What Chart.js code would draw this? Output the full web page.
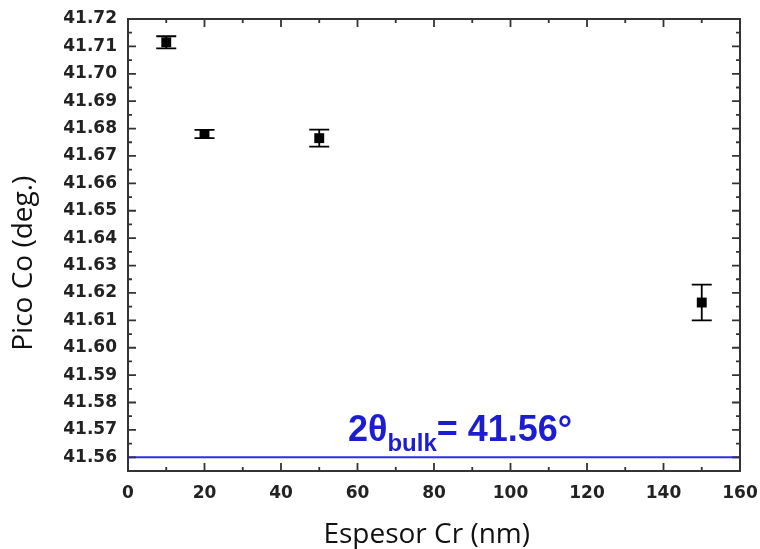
<!DOCTYPE html>
<html>
<head>
<meta charset="utf-8">
<script src="https://cdn.jsdelivr.net/npm/chart.js@4.4.0/dist/chart.umd.min.js"></script>
<style>
  html, body { margin: 0; padding: 0; background: #fff; }
  #wrap { width: 760px; height: 549px; }
</style>
</head>
<body>
<div id="wrap"><canvas id="peakChart" width="760" height="549"></canvas></div>
<script>
// Data
const thickness = [10, 20, 50, 150];                 // Espesor Cr (nm)
const peakPos = [41.7115, 41.678, 41.6765, 41.6165];  // Pico Co (deg.)
const peakErr = [0.0022, 0.0015, 0.0031, 0.0065];
const bulkValue = 41.56;
const bulkRange = [0, 160];
const xTicks = [0, 20, 40, 60, 80, 100, 120, 140, 160];
const yTicks = [41.56, 41.57, 41.58, 41.59, 41.60, 41.61, 41.62, 41.63, 41.64,
                41.65, 41.66, 41.67, 41.68, 41.69, 41.70, 41.71, 41.72];

const tickFont = { family: '"DejaVu Sans", Verdana, sans-serif', size: 17, weight: 'bold' };
const titleFont = { family: '"Open Sans", "Noto Sans", sans-serif', size: 28, weight: 'normal' };
const blueLine = '#2e2ee6';
const blueText = '#1c1cd0';

// error bars, drawn through the scales
const errorBars = {
    id: 'errorBars',
    afterDatasetsDraw(chart) {
        const { ctx, scales: { x, y } } = chart;
        ctx.save();
        ctx.strokeStyle = '#000';
        ctx.lineWidth = 1.8;
        thickness.forEach((t, i) => {
            const px = x.getPixelForValue(t);
            const top = y.getPixelForValue(peakPos[i] + peakErr[i]);
            const bot = y.getPixelForValue(peakPos[i] - peakErr[i]);
            ctx.beginPath();
            ctx.moveTo(px, top); ctx.lineTo(px, bot);
            ctx.moveTo(px - 10, top); ctx.lineTo(px + 10, top);
            ctx.moveTo(px - 10, bot); ctx.lineTo(px + 10, bot);
            ctx.stroke();
        });
        ctx.restore();
    }
};

// box frame with inward major/minor ticks on all sides
const frameTicks = {
    id: 'frameTicks',
    afterDraw(chart) {
        const { ctx, chartArea: a, scales: { x, y } } = chart;
        ctx.save();
        ctx.strokeStyle = '#333';
        ctx.lineWidth = 2;
        ctx.strokeRect(a.left, a.top, a.right - a.left, a.bottom - a.top);
        ctx.lineWidth = 1.8;
        ctx.beginPath();
        xTicks.forEach((v, i) => {
            const px = x.getPixelForValue(v);
            ctx.moveTo(px, a.bottom); ctx.lineTo(px, a.bottom - 8);
            ctx.moveTo(px, a.top); ctx.lineTo(px, a.top + 8);
            if (i < xTicks.length - 1) {
                const mx = x.getPixelForValue((v + xTicks[i + 1]) / 2);
                ctx.moveTo(mx, a.bottom); ctx.lineTo(mx, a.bottom - 4);
                ctx.moveTo(mx, a.top); ctx.lineTo(mx, a.top + 4);
            }
        });
        const yAll = [y.min].concat(yTicks);
        yAll.forEach((v, i) => {
            const py = y.getPixelForValue(v);
            const major = i > 0;
            const len = major ? 8 : 4;
            ctx.moveTo(a.left, py); ctx.lineTo(a.left + len, py);
            ctx.moveTo(a.right, py); ctx.lineTo(a.right - len, py);
            if (major && i < yAll.length - 1) {
                const my = y.getPixelForValue((v + yAll[i + 1]) / 2);
                ctx.moveTo(a.left, my); ctx.lineTo(a.left + 4, my);
                ctx.moveTo(a.right, my); ctx.lineTo(a.right - 4, my);
            }
        });
        ctx.stroke();
        ctx.restore();
    }
};

// "2θbulk = 41.56°" label above the bulk line
const bulkLabel = {
    id: 'bulkLabel',
    afterDraw(chart) {
        const { ctx, scales: { x, y } } = chart;
        let px = x.getPixelForValue(57.5);
        const py = y.getPixelForValue(41.5658);
        const big = 'bold 36px "Liberation Sans", Arial, sans-serif';
        const small = 'bold 24px "Liberation Sans", Arial, sans-serif';
        ctx.save();
        ctx.fillStyle = blueText;
        ctx.textBaseline = 'alphabetic';
        ctx.font = big;
        ctx.fillText('2θ', px, py);
        px += ctx.measureText('2θ').width;
        ctx.font = small;
        ctx.fillText('bulk', px, py + 10);
        px += ctx.measureText('bulk').width;
        ctx.font = big;
        ctx.fillText('= 41.56°', px, py);
        ctx.restore();
    }
};

new Chart(document.getElementById('peakChart').getContext('2d'), {
    type: 'scatter',
    data: {
        datasets: [{
            label: 'Pico Co',
            data: thickness.map((t, i) => ({ x: t, y: peakPos[i] })),
            pointStyle: 'rect',
            pointRadius: 7,
            pointHoverRadius: 7,
            backgroundColor: '#000',
            borderColor: '#000',
            borderWidth: 0
        }, {
            type: 'line',
            label: 'bulk',
            data: bulkRange.map(v => ({ x: v, y: bulkValue })),
            borderColor: blueLine,
            borderWidth: 2,
            pointRadius: 0,
            fill: false
        }]
    },
    options: {
        responsive: false,
        animation: false,
        layout: { padding: { top: 19, right: 20, left: 0, bottom: 0 } },
        plugins: {
            legend: { display: false },
            tooltip: { enabled: false }
        },
        scales: {
            x: {
                type: 'linear',
                min: 0,
                max: 160,
                border: { display: false },
                grid: { display: false, drawTicks: false },
                afterBuildTicks: s => { s.ticks = xTicks.map(v => ({ value: v })); },
                afterFit: s => { s.height = 78; s.paddingLeft = 0; s.paddingRight = 0; },
                ticks: {
                    padding: 12,
                    color: '#222',
                    font: tickFont,
                    maxRotation: 0,
                    callback: v => String(v)
                },
                title: {
                    display: true,
                    text: 'Espesor Cr (nm)  ',
                    color: '#111',
                    font: { ...titleFont, lineHeight: 1.0 },
                    padding: { top: 0, bottom: 0 }
                }
            },
            y: {
                type: 'linear',
                min: 41.555,
                max: 41.72,
                border: { display: false },
                grid: { display: false, drawTicks: false },
                afterBuildTicks: s => { s.ticks = yTicks.map(v => ({ value: v })); },
                afterFit: s => { s.width = 128; s.paddingTop = 0; s.paddingBottom = 0; },
                ticks: {
                    padding: 11,
                    color: '#222',
                    font: tickFont,
                    callback: v => Number(v).toFixed(2)
                },
                title: {
                    display: true,
                    text: 'Pico Co (deg.)     ',
                    color: '#111',
                    font: titleFont,
                    padding: { top: 7, bottom: 0 }
                }
            }
        }
    },
    plugins: [errorBars, frameTicks, bulkLabel]
});
</script>
</body>
</html>
